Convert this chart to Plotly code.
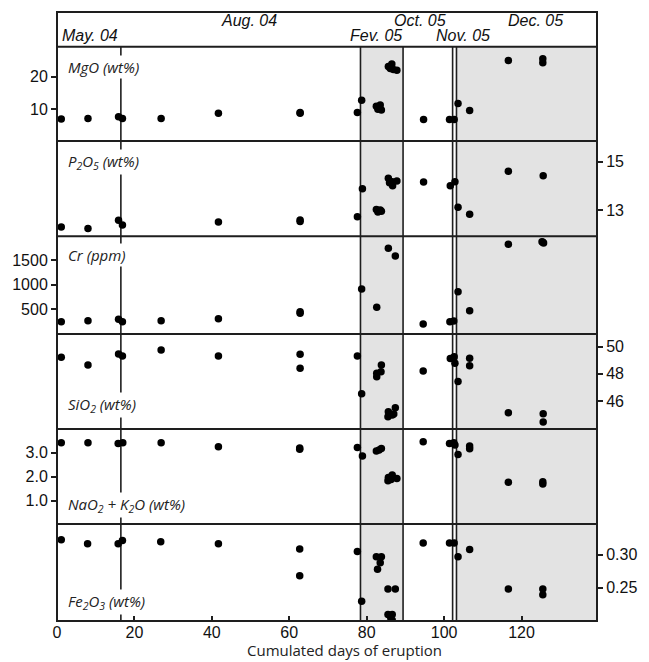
import plotly.graph_objects as go

# ---------------- data ----------------
mgo_days = [1.1, 8, 15.9, 16.9, 26.9, 41.7, 62.8, 62.8, 77.6, 78.7, 82.5, 83.5, 82.9, 83.8,
            85.6, 86.5, 86.9, 87.8, 86.1, 94.7, 101.4, 102.6, 103.6, 106.6, 116.6, 125.5, 125.5]
mgo_vals = [7.0, 7.2, 7.7, 7.2, 7.2, 8.8, 8.8, 9.0, 9.0, 12.8, 10.9, 11.3, 10.0, 9.8,
            23.1, 23.9, 22.2, 22.0, 22.5, 6.9, 6.9, 6.9, 11.8, 9.6, 25.0, 25.5, 24.3]

p2o5_days = [1.1, 8, 15.9, 16.9, 41.7, 62.8, 62.8, 77.6, 78.9, 82.5, 83.5, 82.9, 83.8,
             85.6, 86.6, 87.8, 86.7, 85.9, 94.7, 101.6, 102.8, 103.6, 106.6, 116.6, 125.6]
p2o5_vals = [12.29, 12.23, 12.57, 12.38, 12.50, 12.52, 12.58, 12.72, 13.88, 13.02, 13.0, 12.92, 12.95,
             14.31, 14.17, 14.2, 14.0, 14.13, 14.16, 14.0, 14.17, 13.11, 12.82, 14.60, 14.42]

cr_days = [1.1, 8, 15.9, 16.9, 26.9, 41.7, 62.8, 62.8, 78.7, 82.6, 85.6, 87.4, 94.6,
           101.5, 102.5, 103.6, 106.6, 116.6, 125.5, 125.3, 125.7]
cr_vals = [249, 270, 297, 249, 270, 310, 420, 450, 913, 540, 1737, 1581, 203,
           249, 263, 856, 472, 1818, 1858, 1870, 1845]

sio2_days = [1.1, 8, 15.9, 16.9, 26.9, 41.7, 62.8, 62.8, 77.6, 78.7, 83.8, 83.7, 82.6, 82.6,
             87.4, 85.6, 86.6, 87.0, 85.5, 94.6, 101.6, 102.6, 102.8, 103.6, 106.6, 106.6,
             116.6, 125.6, 125.6]
sio2_vals = [49.22, 48.65, 49.46, 49.32, 49.76, 49.32, 49.44, 48.41, 49.32, 46.53, 48.65, 48.16, 48.04, 47.79,
             45.51, 45.21, 44.97, 45.04, 44.85, 48.21, 49.12, 49.26, 48.78, 47.43, 49.15, 48.6,
             45.14, 45.07, 44.46]

alk_days = [1.1, 8, 15.8, 17.0, 26.9, 41.7, 62.7, 62.7, 77.6, 78.9, 82.5, 83.8, 83.2,
            85.6, 86.6, 87.8, 85.5, 86.3, 94.6, 101.4, 102.5, 102.8, 103.6, 106.6, 106.6,
            116.6, 125.5, 125.5]
alk_vals = [3.42, 3.42, 3.39, 3.42, 3.42, 3.25, 3.15, 3.20, 3.22, 2.86, 3.07, 3.18, 3.11,
            1.97, 2.07, 1.93, 1.83, 1.89, 3.46, 3.39, 3.42, 3.32, 2.93, 3.28, 3.17,
            1.77, 1.79, 1.70]

fe_days = [1.1, 7.9, 15.8, 16.9, 26.8, 41.7, 62.7, 62.7, 77.6, 78.7, 82.5, 83.8, 83.5, 82.8,
           85.5, 87.4, 85.5, 86.6, 86.2, 86.6, 94.6, 101.4, 102.6, 103.6, 106.6,
           116.6, 125.5, 125.5]
fe_vals = [0.323, 0.317, 0.317, 0.322, 0.320, 0.317, 0.309, 0.268, 0.305, 0.229, 0.297, 0.297, 0.288, 0.278,
           0.248, 0.248, 0.209, 0.209, 0.204, 0.200, 0.318, 0.318, 0.318, 0.297, 0.308,
           0.248, 0.248, 0.239]

event_days = [16.5, 78.4, 89.4, 102.2, 103.2]
shaded_spans = [(78.4, 89.4), (103.2, 139.5)]

header_labels = ["May. 04", "Aug. 04", "Fev. 05", "Oct. 05", "Nov. 05", "Dec. 05"]
header_x = [8.5, 49.6, 82.4, 93.8, 105.0, 123.5]
header_row = [0, 1, 0, 1, 0, 1]  # 0 = lower row, 1 = upper row

x_ticks = [0, 20, 40, 60, 80, 100, 120]

panel_labels = ["MgO (wt%)", "P<sub>2</sub>O<sub>5</sub> (wt%)", "Cr (ppm)",
                "SiO<sub>2</sub> (wt%)", "NaO<sub>2</sub> + K<sub>2</sub>O (wt%)",
                "Fe<sub>2</sub>O<sub>3</sub> (wt%)"]

# ---------------- layout geometry ----------------
W, H = 649, 662
ML, MR, MT, MB = 57, 44, 12, 41
PH = H - MT - MB


def frac(ypix):
    return (H - MB - ypix) / PH


bounds_px = [46.7, 141, 236.3, 334, 429, 524, 621]
bounds = [frac(b) for b in bounds_px]
header_bottom = bounds[0]

panels = [
    dict(days=mgo_days, vals=mgo_vals, side="left", rng=[0.28, 29.2], tv=[10, 20], tt=["10", "20"],
         label_y=66.7),
    dict(days=p2o5_days, vals=p2o5_vals, side="right", rng=[11.91, 15.857], tv=[13, 15], tt=["13", "15"],
         label_y=162),
    dict(days=cr_days, vals=cr_vals, side="left", rng=[0, 1980], tv=[500, 1000, 1500],
         tt=["500", "1000", "1500"], label_y=255),
    dict(days=sio2_days, vals=sio2_vals, side="right", rng=[43.94, 50.93], tv=[46, 48, 50],
         tt=["46", "48", "50"], label_y=405),
    dict(days=alk_days, vals=alk_vals, side="left", rng=[0.03, 3.99], tv=[1, 2, 3],
         tt=["1.0", "2.0", "3.0"], label_y=505),
    dict(days=fe_days, vals=fe_vals, side="right", rng=[0.199, 0.347], tv=[0.25, 0.30],
         tt=["0.25", "0.30"], label_y=601.7),
]

LINE = "#1e1e1e"
TICKFONT = dict(family="Liberation Sans", size=16, color="#111")

fig = go.Figure()
layout = dict(
    width=W, height=H, autosize=False,
    margin=dict(l=ML, r=MR, t=MT, b=MB, pad=0),
    paper_bgcolor="white", plot_bgcolor="rgba(0,0,0,0)",
    showlegend=False,
)

for i, p in enumerate(panels):
    n = i + 1
    yname = "yaxis" if n == 1 else f"yaxis{n}"
    yref = "y" if n == 1 else f"y{n}"
    fig.add_trace(go.Scatter(x=p["days"], y=p["vals"], mode="markers", xaxis="x", yaxis=yref,
                             marker=dict(color="black", size=7.5, line=dict(width=0)),
                             hoverinfo="x+y"))
    layout[yname] = dict(
        domain=[bounds[i + 1], bounds[i]], range=p["rng"], anchor="x", side=p["side"],
        tickmode="array", tickvals=p["tv"], ticktext=p["tt"], ticks="outside", ticklen=5,
        tickwidth=1.5, tickcolor=LINE, showgrid=False, zeroline=False, showline=False,
        tickfont=TICKFONT, fixedrange=True,
    )

layout["xaxis"] = dict(
    range=[0, 139.5], anchor="y6", tickmode="array", tickvals=x_ticks, ticks="inside",
    ticklen=5, tickwidth=1.5, tickcolor=LINE, showgrid=False, zeroline=False, showline=False,
    tickfont=TICKFONT, fixedrange=True,
)

shapes = []
for (a, b) in shaded_spans:
    shapes.append(dict(type="rect", xref="x", yref="paper", x0=a, x1=b, y0=0, y1=header_bottom,
                       fillcolor="#e3e3e3", line=dict(width=0), layer="below"))
for d in event_days:
    shapes.append(dict(type="line", xref="x", yref="paper", x0=d, x1=d, y0=0, y1=header_bottom,
                       line=dict(color=LINE, width=1.6), layer="below"))
# panel separators and outer frame
for b in bounds[1:-1] + [header_bottom]:
    shapes.append(dict(type="line", xref="paper", yref="paper", x0=0, x1=1, y0=b, y1=b,
                       line=dict(color=LINE, width=2)))
shapes.append(dict(type="rect", xref="paper", yref="paper", x0=0, x1=1, y0=0, y1=1,
                   line=dict(color=LINE, width=2), fillcolor="rgba(0,0,0,0)"))
layout["shapes"] = shapes

annotations = []
for lab, hx, row in zip(header_labels, header_x, header_row):
    annotations.append(dict(text=f"<i>{lab}</i>", x=hx, y=frac(21 if row else 35.5), xref="x",
                            yref="paper", showarrow=False, xanchor="center", yanchor="middle",
                            font=dict(family="Liberation Sans", size=16, color="#111")))
for p, lab in zip(panels, panel_labels):
    annotations.append(dict(text=f"<i>{lab}</i>", x=(66 - ML) / (W - ML - MR), y=frac(p["label_y"]),
                            xref="paper", yref="paper", showarrow=False, xanchor="left",
                            yanchor="middle", bgcolor="white", borderpad=1,
                            font=dict(family="Open Sans", size=15, color="#222")))
annotations.append(dict(text="Cumulated days of eruption", x=(349 - ML) / (W - ML - MR),
                        y=frac(650), xref="paper", yref="paper", showarrow=False,
                        xanchor="center", yanchor="middle",
                        font=dict(family="Open Sans", size=15, color="#222")))
layout["annotations"] = annotations

fig.update_layout(**layout)
fig.write_html("out.html")
